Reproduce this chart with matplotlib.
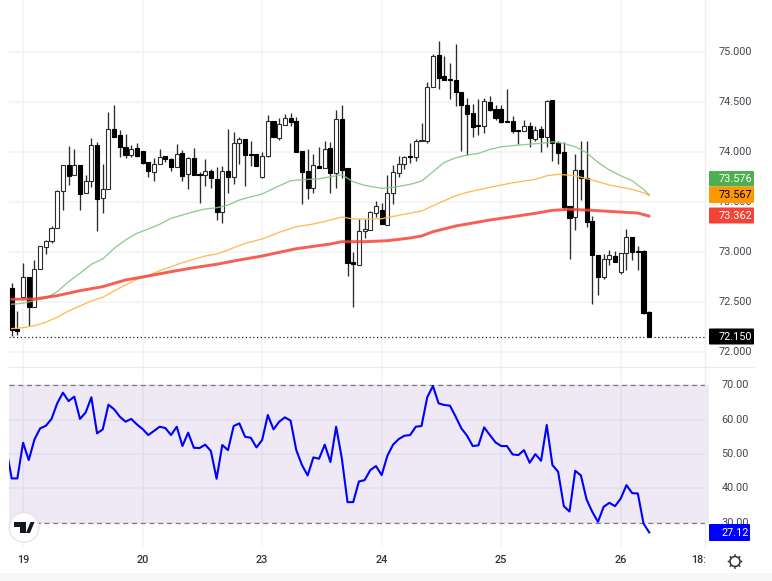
"""Hourly candles with three moving averages and an RSI pane below, TradingView style."""
import matplotlib
matplotlib.use("Agg")
import matplotlib.pyplot as plt
from matplotlib.lines import Line2D
from matplotlib.patches import Circle, FancyBboxPatch, Polygon, Rectangle
from matplotlib.transforms import Bbox

# ---- data ----
opens = [72.646, 72.230, 72.556, 72.757, 72.453, 72.833, 73.056, 73.110, 73.240, 73.610,
         73.876, 73.770, 73.876, 73.590, 73.716, 74.076, 73.540, 73.630, 74.236, 74.170,
         74.050, 73.970, 74.040, 74.010, 73.906, 73.806, 73.886, 73.960, 73.933, 73.856,
         73.990, 73.780, 73.943, 73.776, 73.770, 73.810, 73.736, 73.400, 73.810, 73.750,
         74.090, 74.136, 73.983, 73.983, 73.756, 73.966, 74.313, 74.146, 74.273, 74.340,
         74.313, 74.010, 73.813, 73.646, 73.860, 73.846, 74.040, 73.796, 74.333, 73.840,
         72.900, 72.876, 73.210, 73.220, 73.390, 73.423, 73.276, 73.596, 73.790, 73.886,
         73.963, 73.956, 74.110, 74.116, 74.650, 74.970, 74.760, 74.733, 74.723, 74.606,
         74.470, 74.390, 74.270, 74.263, 74.503, 74.430, 74.430, 74.310, 74.316, 74.220,
         74.210, 74.266, 74.130, 74.230, 74.156, 74.523, 74.096, 74.000, 73.463, 73.356,
         73.820, 73.746, 73.316, 72.970, 72.750, 72.930, 72.966, 72.800, 72.996, 73.150,
         73.006, 73.010, 72.403]
highs = [72.690, 72.413, 72.890, 72.757, 72.923, 73.060, 73.123, 73.263, 73.623, 73.876,
         74.063, 74.033, 73.876, 73.776, 74.140, 74.106, 73.880, 74.400, 74.470, 74.223,
         74.183, 74.073, 74.096, 74.016, 73.906, 73.940, 74.033, 73.963, 73.940, 74.080,
         74.023, 73.956, 74.040, 73.806, 73.930, 73.830, 73.850, 73.863, 74.233, 74.206,
         74.156, 74.136, 74.116, 73.983, 74.006, 74.373, 74.313, 74.340, 74.383, 74.390,
         74.350, 74.010, 74.030, 73.983, 74.050, 74.113, 74.106, 74.423, 74.470, 73.840,
         73.000, 73.330, 73.330, 73.413, 73.510, 73.490, 73.773, 73.873, 73.963, 73.963,
         74.090, 74.130, 74.290, 74.706, 74.983, 75.113, 74.963, 74.890, 75.083, 74.606,
         74.540, 74.483, 74.536, 74.540, 74.563, 74.473, 74.473, 74.630, 74.363, 74.223,
         74.323, 74.306, 74.266, 74.263, 74.523, 74.523, 74.110, 74.106, 73.463, 73.983,
         74.116, 74.116, 73.363, 72.973, 72.983, 73.023, 73.016, 72.996, 73.236, 73.150,
         73.063, 73.023, 72.410]
lows = [72.163, 72.173, 72.556, 72.266, 72.453, 72.833, 72.983, 73.090, 73.240, 73.423,
        73.673, 73.770, 73.423, 73.590, 73.656, 73.216, 73.390, 73.630, 74.150, 73.956,
        73.943, 73.956, 73.956, 73.883, 73.750, 73.710, 73.883, 73.900, 73.816, 73.856,
        73.710, 73.636, 73.770, 73.493, 73.663, 73.646, 73.323, 73.296, 73.590, 73.683,
        73.883, 73.666, 73.863, 73.863, 73.746, 73.950, 74.150, 74.123, 74.273, 74.263,
        74.006, 73.483, 73.530, 73.590, 73.846, 73.846, 73.596, 73.646, 73.740, 72.763,
        72.450, 72.876, 73.140, 73.220, 73.356, 73.280, 73.276, 73.483, 73.756, 73.836,
        73.896, 73.916, 74.110, 74.096, 74.650, 74.636, 74.723, 74.530, 74.463, 74.016,
        73.970, 74.150, 74.173, 74.190, 74.416, 74.323, 74.290, 74.303, 74.190, 74.080,
        74.210, 74.056, 74.113, 74.006, 74.050, 73.913, 73.883, 73.430, 72.936, 73.223,
        73.523, 73.256, 72.480, 72.573, 72.736, 72.876, 72.900, 72.783, 72.823, 72.923,
        72.823, 72.383, 72.150]
closes = [72.223, 72.216, 72.757, 72.453, 72.833, 73.060, 73.110, 73.240, 73.610, 73.876,
          73.763, 73.870, 73.580, 73.716, 74.076, 73.533, 73.630, 74.230, 74.156, 74.056,
          73.976, 74.036, 73.960, 73.893, 73.816, 73.886, 73.950, 73.933, 73.853, 73.980,
          73.763, 73.946, 73.770, 73.770, 73.810, 73.740, 73.400, 73.810, 73.750, 74.096,
          74.133, 73.976, 73.973, 73.863, 73.963, 74.313, 74.150, 74.286, 74.340, 74.303,
          74.006, 73.806, 73.646, 73.870, 73.846, 74.030, 73.796, 74.333, 73.823, 72.890,
          72.886, 73.210, 73.230, 73.403, 73.460, 73.286, 73.593, 73.800, 73.886, 73.950,
          73.950, 74.116, 74.120, 74.656, 74.960, 74.746, 74.723, 74.720, 74.606, 74.470,
          74.386, 74.256, 74.260, 74.510, 74.423, 74.340, 74.300, 74.303, 74.216, 74.210,
          74.266, 74.140, 74.223, 74.150, 74.513, 74.090, 73.996, 73.456, 73.343, 73.820,
          73.746, 73.306, 72.973, 72.756, 72.930, 72.976, 72.906, 72.996, 73.150, 73.003,
          73.000, 72.396, 72.150]

green_idx = [0, 2, 4, 6, 8, 10, 12, 14, 16, 18, 20, 22, 24, 26, 28, 30, 32, 34, 36, 38, 40, 41,
             44, 46, 49, 51, 54, 58, 60, 62, 65, 67, 70, 72, 74, 76, 78, 80, 82, 84, 86, 89,
             93, 95, 97, 99, 101, 103, 105, 107, 109, 111, 112]
green_ma = [72.480, 72.490, 72.516, 72.540, 72.606, 72.706, 72.790, 72.880, 72.933, 73.040,
            73.123, 73.190, 73.233, 73.280, 73.340, 73.373, 73.406, 73.433, 73.446, 73.473,
            73.523, 73.540, 73.583, 73.640, 73.716, 73.726, 73.736, 73.776, 73.706, 73.670,
            73.640, 73.650, 73.680, 73.713, 73.806, 73.900, 73.946, 73.973, 73.990, 74.030,
            74.056, 74.073, 74.090, 74.106, 74.090, 74.056, 73.996, 73.900, 73.823, 73.766,
            73.716, 73.630, 73.576]
orange_idx = [0, 2, 4, 6, 8, 10, 12, 14, 16, 18, 20, 22, 24, 26, 28, 30, 32, 34, 36, 38, 41, 44,
              47, 50, 53, 56, 58, 60, 62, 65, 68, 72, 74, 76, 78, 80, 84, 88, 92, 94, 96, 99,
              102, 105, 109, 111, 112]
orange_ma = [72.236, 72.246, 72.266, 72.300, 72.350, 72.413, 72.463, 72.513, 72.550, 72.613,
             72.673, 72.730, 72.766, 72.816, 72.856, 72.896, 72.930, 72.963, 72.983, 73.023,
             73.090, 73.133, 73.200, 73.256, 73.283, 73.323, 73.353, 73.333, 73.333, 73.336,
             73.370, 73.413, 73.466, 73.516, 73.566, 73.600, 73.650, 73.696, 73.730, 73.766,
             73.780, 73.766, 73.723, 73.673, 73.630, 73.596, 73.567]
red_idx = [0, 4, 8, 12, 16, 20, 24, 28, 32, 36, 40, 44, 50, 56, 58, 62, 66, 70, 72, 74, 78, 80,
           84, 88, 92, 95, 98, 102, 106, 110, 112]
red_ma = [72.530, 72.533, 72.566, 72.616, 72.656, 72.723, 72.763, 72.806, 72.846, 72.880,
          72.923, 72.963, 73.036, 73.083, 73.106, 73.106, 73.116, 73.143, 73.163, 73.206,
          73.263, 73.283, 73.323, 73.356, 73.390, 73.420, 73.430, 73.420, 73.406, 73.393,
          73.362]

# first value belongs to the bar just left of the visible window
rsi = [52.1, 42.85, 42.85, 53.26, 48.2, 54.2, 57.45, 58.2, 60.2, 64.75, 67.86, 65.4, 66.7, 60.2,
       62.1, 66.5, 56.0, 57.15, 64.35, 63.0, 60.85, 59.4, 60.2, 58.6, 57.25, 55.5, 56.7, 57.93,
       57.54, 55.5, 57.93, 52.3, 56.2, 51.8, 51.7, 52.7, 50.83, 42.75, 52.6, 51.1, 58.13, 58.9,
       55.0, 54.72, 51.9, 54.04, 61.34, 57.15, 59.4, 60.66, 59.7, 51.1, 46.74, 43.72, 48.98,
       48.59, 52.7, 47.62, 57.93, 48.7, 35.94, 35.94, 41.97, 42.36, 45.28, 46.45, 43.82, 49.47,
       52.7, 54.33, 55.3, 55.5, 57.93, 58.13, 66.5, 69.8, 64.75, 64.26, 64.06, 60.85, 57.45, 55.3,
       52.3, 52.5, 57.74, 55.5, 53.36, 52.3, 52.3, 49.85, 49.66, 51.1, 47.42, 49.95, 48.0, 58.42,
       46.74, 44.8, 34.77, 33.2, 45.1, 43.72, 36.7, 33.1, 30.2, 34.6, 35.74, 34.77, 37.0, 40.9,
       38.57, 38.47, 29.7, 27.12]

price_ticks = [72.0, 72.5, 73.0, 73.5, 74.0, 74.5, 75.0]
rsi_ticks = [30, 40, 50, 60, 70]
day_idx = [2, 23, 44, 65, 86, 107]
day_labels = ["19", "20", "23", "24", "25", "26"]

W, H = 772, 581
LEFT, RIGHT, PANE_TOP, SPLIT, PANE_BOTTOM = 9, 705, 0, 367, 547
XLIM = (-0.47, 121.8)
GRID = "#f3f3f5"
TEXT = "#434651"
FS = 7.8

plt.rcParams["font.family"] = ["Roboto", "DejaVu Sans"]
fig = plt.figure(figsize=(W / 100, H / 100), dpi=100, facecolor="white")
# pale strip along the bottom of the screenshot
fig.add_artist(Rectangle((0, 0), 1, 8 / H, transform=fig.transFigure, color="#f7f7f8", lw=0))

ax = fig.add_axes([LEFT / W, 1 - SPLIT / H, (RIGHT - LEFT) / W, (SPLIT - PANE_TOP) / H])
rx = fig.add_axes([LEFT / W, 1 - PANE_BOTTOM / H, (RIGHT - LEFT) / W, (PANE_BOTTOM - SPLIT) / H])
for a in (ax, rx):
    a.set_xlim(*XLIM)
    a.set_xticks(day_idx)
    a.tick_params(length=0, labelbottom=False, labelleft=False)
    a.grid(True, color=GRID, lw=1.1)
    a.set_axisbelow(True)
    for s in ("top", "left", "bottom"):
        a.spines[s].set_visible(False)
    a.spines["right"].set_color("#ececef")

# pane separator runs on under the price scale
fig.add_artist(Line2D([LEFT, 754], [H - SPLIT + 0.5] * 2, transform=None, color="#e8ebf0", lw=0.9))


def scale_label(y_px, text, color=TEXT, z=3):
    fig.text(735 / W, 1 - y_px / H, text, ha="center", va="center", fontsize=FS, color=color, zorder=z)


def tag(top, bottom, right, text, color, txt="white"):
    # value tag in the right scale, pixel box from the screenshot
    fig.add_artist(FancyBboxPatch((709, H - bottom), right - 709, bottom - top, transform=None,
                                  boxstyle="round,pad=0,rounding_size=1", fc=color, lw=0, zorder=10))
    scale_label((top + bottom) / 2, text, txt, 11)


# ---- price pane ----
ax.set_ylim(71.852, 75.525)
ax.set_yticks(price_ticks)
for i in range(len(opens)):
    up = closes[i] >= opens[i]
    ax.vlines(i, lows[i], highs[i], color="#2b2b2b", lw=0.95, zorder=3)
    ax.bar(i, max(abs(closes[i] - opens[i]), 0.012), bottom=min(opens[i], closes[i]), width=0.72,
           color="white" if up else "black", edgecolor="#2b2b2b" if up else "black", lw=0.8, zorder=4)
ax.plot(green_idx, green_ma, color="#81c784", lw=0.95, alpha=0.9, zorder=5)
ax.plot(orange_idx, orange_ma, color="#ffb74d", lw=0.95, alpha=0.95, zorder=5)
ax.plot(red_idx, red_ma, color="#f44336", lw=2.1, alpha=0.85, zorder=5, solid_capstyle="round")
ax.axhline(closes[-1], color="#222222", lw=0.9, ls=(0, (1, 2)), zorder=6)

for t in price_ticks:
    scale_label(H - ax.transData.transform((0, t))[1], f"{t:.3f}")

tag(171, 186.5, 754, "73.576", "#4caf50")
tag(186.5, 203, 754, "73.567", "#ff9800", "black")
tag(207.5, 223.5, 754, "73.362", "#f44336")
tag(328.5, 344.5, 754, "72.150", "black")

# ---- RSI pane ----
rx.set_ylim(22.86, 75.34)
rx.set_yticks(rsi_ticks)
rx.axhspan(30, 70, xmax=1 + 4 / (RIGHT - LEFT), color="#5e2a9e", alpha=0.1, lw=0, zorder=1, clip_on=False)
for lvl in (30, 70):
    rx.axhline(lvl, color="#787b86", lw=0.9, ls=(0, (4, 3)), zorder=2)
rx.plot(range(-1, len(rsi) - 1), rsi, color="#0000ff", lw=1.5, zorder=5)
for t in rsi_ticks:
    scale_label(H - rx.transData.transform((0, t))[1], f"{t:.2f}")
tag(524, 541, 750, "27.12", "#0000ff")

for d, lab in zip(day_idx, day_labels):
    x_px = rx.transData.transform((d, 0))[0]
    fig.text(x_px / W, 1 - 560 / H, lab, ha="center", va="center", fontsize=FS, color="#2f3340", fontweight="medium")
# last time label is cut off at the price scale
fig.text(691 / W, 1 - 560 / H, "18:00", ha="left", va="center", fontsize=FS, color="#2f3340", fontweight="medium",
         clip_on=True, clip_box=Bbox([[0, 0], [705, H]]))

# ---- TradingView badge and settings gear ----
fig.add_artist(Circle((24, H - 527.5), 14.8, transform=None, fc="white", ec="#e6e6ea", lw=1, zorder=12))
fig.add_artist(Polygon([(14, H - 522), (26, H - 522), (26, H - 533), (19.5, H - 533), (19.5, H - 527), (14, H - 527)],
                       transform=None, fc="#131722", lw=0, zorder=13))
fig.add_artist(Polygon([(26, H - 533), (30.5, H - 522), (34.5, H - 522), (30, H - 533)],
                       transform=None, fc="#131722", lw=0, zorder=13))
fig.add_artist(Circle((735, H - 561.5), 5, transform=None, fc="none", ec="#2a2e39", lw=1.1, zorder=12))
for dx, dy in ((0, 6.5), (0, -6.5), (6.5, 0), (-6.5, 0), (4.6, 4.6), (-4.6, 4.6), (4.6, -4.6), (-4.6, -4.6)):
    fig.add_artist(Circle((735 + dx, H - 561.5 + dy), 0.9, transform=None, fc="#2a2e39", lw=0, zorder=12))

fig.savefig("out.png", dpi=100)
